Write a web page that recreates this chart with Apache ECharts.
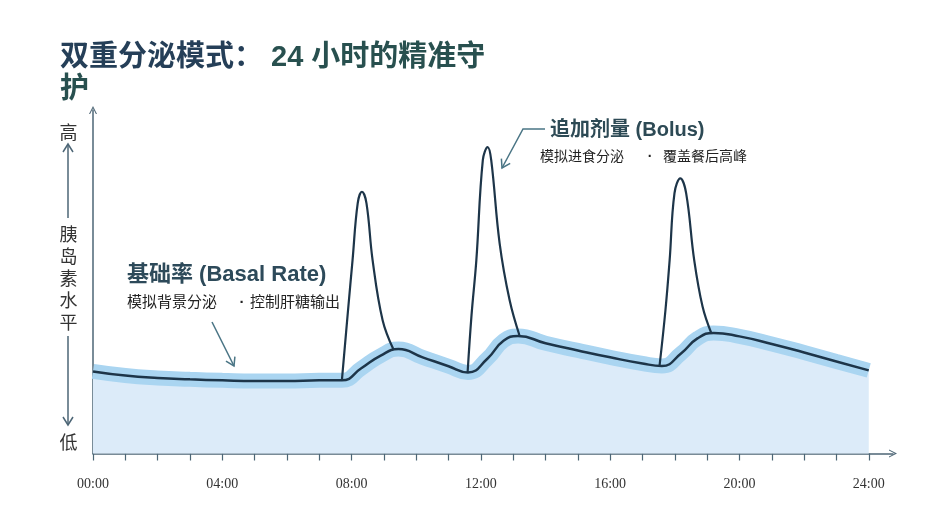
<!DOCTYPE html>
<html>
<head>
<meta charset="utf-8">
<script src="https://cdn.jsdelivr.net/npm/echarts@6/dist/echarts.min.js"></script>
<style>
  html, body { margin: 0; padding: 0; background: #ffffff; }
  #main { width: 950px; height: 531px; }
</style>
</head>
<body>
<div id="main"></div>
<script>
// 시간 축 (0~24시), 값은 임의 단위 (0=낮음, 100=높음)
var hourTicks = [0,1,2,3,4,5,6,7,8,9,10,11,12,13,14,15,16,17,18,19,20,21,22,23,24];
var hourLabels = [0,4,8,12,16,20,24];

// 기초 분비 곡선
var basalHours = [0,1,2,3,4,5,6,7,7.7,8.3,8.9,9.45,10.2,11,11.6,12.2,12.7,13.15,14,15,16,17,17.6,18.2,18.7,19.2,20,21,22,23,24];
var basalLevel = [23.9,22.7,22.0,21.6,21.3,21.1,21.1,21.3,21.3,24.8,28.5,30.4,28.0,25.4,23.6,27.6,32.8,34.2,32.1,30.0,28.0,26.2,25.5,29.2,33.5,35.1,34.1,31.9,29.4,26.8,24.2];

// 추가 분비 (식사) 피크
var bolus1Hours = [7.7,7.89,8.03,8.19,8.32,8.46,8.65,8.96,9.3];
var bolus1Level = [21.3,41.7,56.3,72.9,76.2,72.9,56.3,38.8,30.2];
var bolus2Hours = [11.59,11.71,11.86,12.06,12.21,12.32,12.58,12.89,13.2];
var bolus2Level = [23.7,40.2,56.3,85.4,89.2,85.4,61.2,44.6,34.2];
var bolus3Hours = [17.53,17.71,17.84,17.99,18.17,18.35,18.6,18.86,19.13];
var bolus3Level = [25.7,41.7,56.3,75.8,80.1,75.8,56.3,42.7,35.0];

function pairs(xs, ys){
  return xs.map(function(x, i){ return [x, ys[i]]; });
}

var navy = '#1d3549';
var axisColor = '#4d6676';
var cjk = "'Liberation Sans', 'Noto Sans CJK SC', sans-serif";
var chevron = 'path://M0,10 L5,0 L10,10 L8.6,10 L5,2.8 L1.4,10 Z';

function pad2(n){ return (n < 10 ? '0' : '') + n; }

function arrowHead(tip, from, len, spread){
  var dx = tip[0] - from[0], dy = tip[1] - from[1];
  var d = Math.sqrt(dx*dx + dy*dy);
  var ux = dx / d, uy = dy / d;
  var bx = tip[0] - ux*len, by = tip[1] - uy*len;
  return [[bx - uy*spread, by + ux*spread], tip, [bx + uy*spread, by - ux*spread]];
}

function arrowLine(pts, color){
  var n = pts.length;
  return [
    { type: 'polyline', shape: { points: pts }, style: { stroke: color, lineWidth: 1.5, fill: null }, z: 10 },
    { type: 'polyline', shape: { points: arrowHead(pts[n-1], pts[n-2], 8, 5) }, style: { stroke: color, lineWidth: 1.5, fill: null }, z: 10 }
  ];
}

function txt(t, x, y, size, color, weight, align){
  return {
    type: 'text', z: 10,
    style: {
      text: t, x: x, y: y, fill: color,
      font: (weight || 'normal') + ' ' + size + 'px ' + cjk,
      textAlign: align || 'left', textVerticalAlign: 'middle'
    }
  };
}

var graphics = [];
// 세로축 설명
graphics.push(txt('高', 68.5, 134, 18, '#333333', 'normal', 'center'));
graphics = graphics.concat(arrowLine([[68, 218], [68, 144]], axisColor));
graphics.push({
  type: 'text', z: 10,
  style: { text: '胰\n岛\n素\n水\n平', x: 68.5, y: 280, fill: '#333333', font: '18px ' + cjk,
           textAlign: 'center', textVerticalAlign: 'middle', lineHeight: 22 }
});
graphics = graphics.concat(arrowLine([[68, 336], [68, 425]], axisColor));
graphics.push(txt('低', 68.5, 444, 18, '#333333', 'normal', 'center'));

// 기초 분비 설명
graphics.push(txt('基础率 (Basal Rate)', 127, 275, 22, '#2d4a5a', 'bold'));
graphics.push(txt('模拟背景分泌', 127, 303, 15, '#222222'));
graphics.push(txt('·', 242, 303, 15, '#222222', 'bold', 'center'));
graphics.push(txt('控制肝糖输出', 250, 303, 15, '#222222'));
graphics = graphics.concat(arrowLine([[212, 322], [234, 366]], '#4a7585'));

// 추가 분비 설명
graphics.push(txt('追加剂量 (Bolus)', 550, 130, 20, '#2d4a55', 'bold'));
graphics.push(txt('模拟进食分泌', 540, 157, 14, '#222222'));
graphics.push(txt('·', 650, 157, 14, '#222222', 'bold', 'center'));
graphics.push(txt('覆盖餐后高峰', 663, 157, 14, '#222222'));
graphics = graphics.concat(arrowLine([[545, 129], [523, 129], [502, 168]], '#4a7585'));

var chart = echarts.init(document.getElementById('main'));

function bolusSeries(xs, ys){
  return {
    type: 'line', data: pairs(xs, ys), smooth: 0.4, showSymbol: false, z: 4,
    lineStyle: { color: navy, width: 2.2 }
  };
}

var option = {
  animation: false,
  backgroundColor: '#ffffff',
  title: {
    text: '{a|双重分泌模式：}{b| 24 小时的精准守}\n{b|护}',
    left: 55, top: 37,
    textStyle: {
      fontSize: 29, fontWeight: 'bold', fontFamily: cjk, lineHeight: 32,
      rich: {
        a: { fontSize: 29, fontWeight: 'bold', fontFamily: cjk, color: '#253f58', lineHeight: 32 },
        b: { fontSize: 29, fontWeight: 'bold', fontFamily: cjk, color: '#28504f', lineHeight: 32 }
      }
    }
  },
  grid: { left: 93, right: 57, top: 110, bottom: 77.5, containLabel: false },
  xAxis: {
    type: 'value', min: 0, max: 24.75,
    axisLine: { show: true, lineStyle: { color: axisColor, width: 1.5 }, symbol: ['none', chevron], symbolSize: [11, 8] },
    axisTick: { show: true, length: 7, customValues: hourTicks, lineStyle: { color: axisColor, width: 1.2 } },
    axisLabel: {
      customValues: hourLabels, margin: 24, fontSize: 14, fontFamily: "'Liberation Serif', serif",
      color: function(v){ return v === 24 ? '#3d5a6a' : '#333333'; },
      formatter: function(v){ return pad2(v) + ':00'; }
    },
    splitLine: { show: false }
  },
  yAxis: {
    type: 'value', min: 0, max: 100,
    axisLine: { show: true, lineStyle: { color: axisColor, width: 1.5 }, symbol: ['none', chevron], symbolSize: [11, 8] },
    axisTick: { show: false },
    axisLabel: { show: false },
    splitLine: { show: false }
  },
  series: [
    {
      type: 'line', data: pairs(basalHours, basalLevel), smooth: 0.5, showSymbol: false, z: 2,
      lineStyle: { color: '#aad5f1', width: 15 },
      areaStyle: { color: '#dcebf9', opacity: 1 }
    },
    {
      type: 'line', data: pairs(basalHours, basalLevel), smooth: 0.5, showSymbol: false, z: 5,
      lineStyle: { color: navy, width: 2.5 }
    },
    bolusSeries(bolus1Hours, bolus1Level),
    bolusSeries(bolus2Hours, bolus2Level),
    bolusSeries(bolus3Hours, bolus3Level)
  ],
  graphic: graphics
};

chart.setOption(option);
</script>
</body>
</html>
